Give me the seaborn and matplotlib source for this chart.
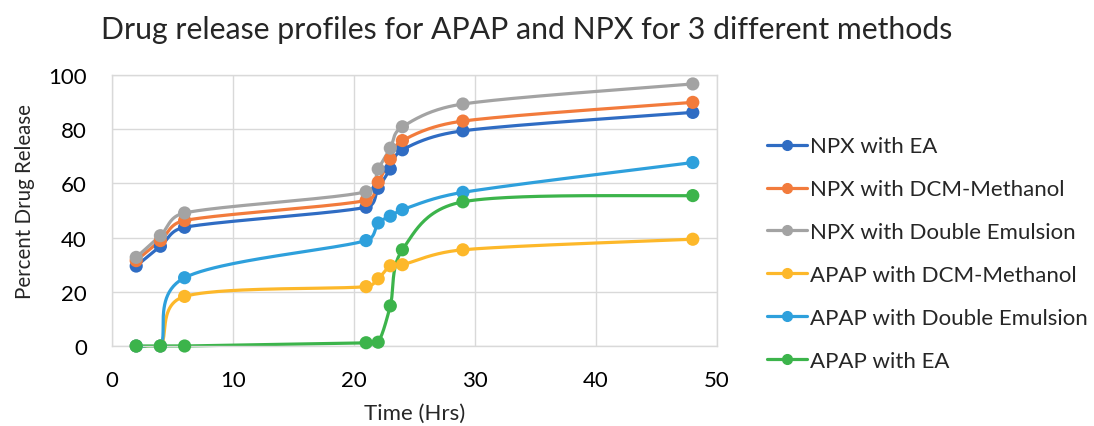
import numpy as np
import pandas as pd
import matplotlib
matplotlib.use("Agg")
import matplotlib.pyplot as plt
from matplotlib.lines import Line2D
from matplotlib.patches import Rectangle
import seaborn as sns

# ---- data ----
time_hrs = [2, 4, 6, 21, 22, 23, 24, 29, 48]
series_names = [
    "NPX with EA",
    "NPX with DCM-Methanol",
    "NPX with Double Emulsion",
    "APAP with DCM-Methanol",
    "APAP with Double Emulsion",
    "APAP with EA",
]
npx_ea = [29.5, 36.8, 43.8, 51.2, 58.2, 65.3, 72.4, 79.4, 86.2]
npx_dcm = [31.5, 38.9, 46.3, 53.7, 60.4, 69.0, 75.8, 83.0, 89.9]
npx_de = [32.7, 40.7, 49.1, 56.9, 65.3, 73.0, 80.9, 89.3, 96.7]
apap_dcm = [0, 0, 18.3, 21.9, 24.8, 29.6, 30.0, 35.5, 39.4]
apap_de = [0, 0, 25.2, 38.9, 45.4, 47.9, 50.3, 56.7, 67.7]
apap_ea = [0, 0, 0, 1.2, 1.4, 14.8, 35.5, 53.2, 55.5]
series_values = [npx_ea, npx_dcm, npx_de, apap_dcm, apap_de, apap_ea]
colors = ["#2F6CC3", "#F27B3C", "#A3A3A3", "#FDB82A", "#2EA0DC", "#3CB44B"]
x_ticks = [0, 10, 20, 30, 40, 50]
y_ticks = [0, 20, 40, 60, 80, 100]

# ---- Excel-style smoothed line (Bezier through the data points) ----
SX, SY = 605 / 50.0, 271 / 100.0  # screen scale used to measure distances


def smooth(xs, ys, n=50):
    P = np.column_stack([xs, ys]).astype(float)
    S = np.array([SX, SY])
    out = []
    for i in range(len(P) - 1):
        p0 = P[i - 1] if i > 0 else P[i]
        p1 = P[i]
        p2 = P[i + 1]
        p3 = P[i + 2] if i + 2 < len(P) else P[i + 1]
        d12 = np.linalg.norm((p2 - p1) * S)
        d02 = np.linalg.norm((p2 - p0) * S)
        d13 = np.linalg.norm((p3 - p1) * S)
        f1 = 1 / 6 if d02 / 6 < d12 / 2 else (d12 / (2 * d02) if d02 > 0 else 0)
        f2 = 1 / 6 if d13 / 6 < d12 / 2 else (d12 / (2 * d13) if d13 > 0 else 0)
        c1 = p1 + (p2 - p0) * f1
        c2 = p2 - (p3 - p1) * f2
        t = np.linspace(0, 1, n)[:, None]
        seg = ((1 - t) ** 3) * p1 + 3 * ((1 - t) ** 2) * t * c1 + 3 * (1 - t) * t ** 2 * c2 + t ** 3 * p2
        out.append(seg if i == 0 else seg[1:])
    arr = np.vstack(out)
    return arr[:, 0], arr[:, 1]


pts_rows, curve_rows = [], []
for name, vals in zip(series_names, series_values):
    for t, v in zip(time_hrs, vals):
        pts_rows.append({"Time": t, "Release": v, "Series": name})
    sx, sy = smooth(time_hrs, vals)
    for a, b in zip(sx, sy):
        curve_rows.append({"Time": a, "Release": b, "Series": name})
pts = pd.DataFrame(pts_rows)
curves = pd.DataFrame(curve_rows)
palette = dict(zip(series_names, colors))

sns.set_theme(style="whitegrid")
plt.rcParams["font.family"] = ["Lato", "DejaVu Sans"]

fig = plt.figure(figsize=(10.94, 4.27), dpi=100)
ax = fig.add_axes([112 / 1094, 1 - 347 / 427, (717 - 112) / 1094, (347 - 76) / 427])

sns.lineplot(data=curves, x="Time", y="Release", hue="Series", palette=palette,
             hue_order=series_names, sort=False, estimator=None, units="Series",
             linewidth=2.3, legend=False, ax=ax)
clip = Rectangle((0, -0.009), 1, 1.02, transform=ax.transAxes, visible=False)
ax.add_patch(clip)
for ln in ax.lines:
    ln.set_clip_path(clip)
sns.scatterplot(data=pts, x="Time", y="Release", hue="Series", palette=palette,
                hue_order=series_names, s=90, edgecolor="none", legend=False,
                ax=ax, zorder=3, clip_on=False)

ax.set_xlim(0, 50)
ax.set_ylim(0, 100)
ax.set_xticks(x_ticks)
ax.set_yticks(y_ticks)
ax.tick_params(axis="both", labelsize=16, colors="#000000", length=0)
ax.tick_params(axis="x", pad=17)
ax.tick_params(axis="y", pad=18)
ax.grid(True, color="#D9D9D9", linewidth=1.0)
for sp in ax.spines.values():
    sp.set_color("#D9D9D9")
    sp.set_linewidth(1.0)
ax.set_xlabel("Time (Hrs)", fontsize=16)
ax.xaxis.set_label_coords(0.5, -0.208)
ax.set_ylabel("Percent Drug Release", fontsize=14.8)
ax.yaxis.set_label_coords(-0.127, 0.535)

fig.suptitle("Drug release profiles for APAP and NPX for 3 different methods",
             x=527 / 1094, y=0.93, fontsize=21.8, va="center")

handles = [Line2D([0], [0], color=c, lw=2.3, marker="o", markersize=7) for c in colors]
ax.legend(handles, series_names, loc="upper left", bbox_to_anchor=(1.068, 0.806),
          frameon=False, fontsize=16, handlelength=1.8, handletextpad=0.15,
          labelspacing=1.03, borderaxespad=0)

fig.savefig("out.png", dpi=100)
